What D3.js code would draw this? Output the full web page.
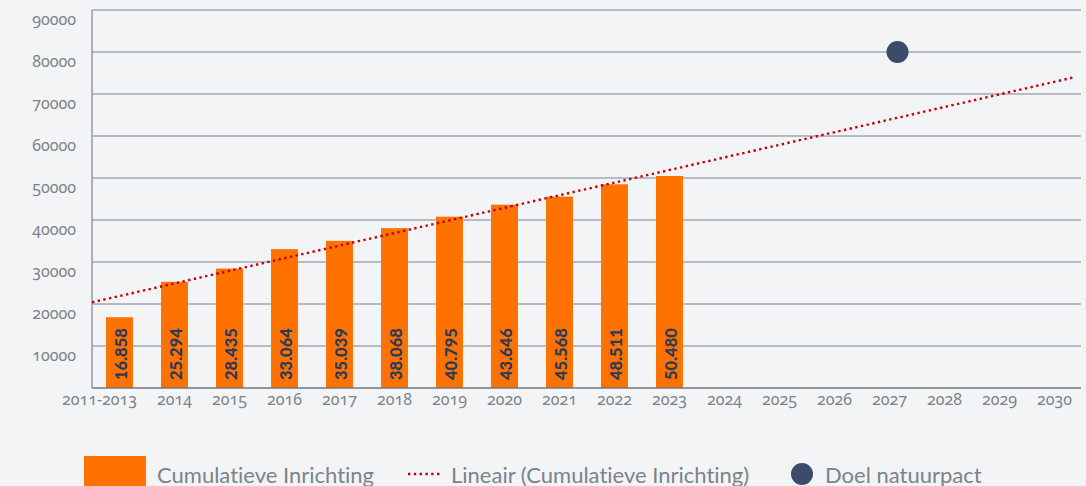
<!DOCTYPE html>
<html><head><meta charset="utf-8">
<script src="https://cdn.jsdelivr.net/npm/d3@7"></script>
<style>
html,body{margin:0;padding:0;background:#f3f4f6;}
body{font-family:"Noto Sans",Lato,sans-serif;font-variant-numeric:oldstyle-nums;font-feature-settings:"onum" 1;}
#wrap{position:relative;width:1086px;height:486px;overflow:hidden;}
svg{display:block;position:absolute;left:0;top:0;font-family:Lato,"Noto Sans",sans-serif;}
.lab{position:absolute;white-space:nowrap;font-family:"Noto Sans",Lato,sans-serif;font-size:16px;color:#7b838c;
  font-variant-numeric:oldstyle-nums;font-feature-settings:"onum" 1;}
</style></head><body>
<div id="wrap"><svg id="c" width="1086" height="486"></svg></div>
<script>
const categories = ["2011-2013","2014","2015","2016","2017","2018","2019","2020","2021","2022","2023","2024","2025","2026","2027","2028","2029","2030"];
const barValues = [16858,25294,28435,33064,35039,38068,40795,43646,45568,48511,50480];
const barLabels = ["16.858","25.294","28.435","33.064","35.039","38.068","40.795","43.646","45.568","48.511","50.480"];
const trendValues = [20400, 74050]; // read at left edge of plot and near right end
const goalCategory = "2027";
const goalValue = 80000;
const yTicks = [10000,20000,30000,40000,50000,60000,70000,80000,90000];
const legendLabels = ["Cumulatieve Inrichting","Lineair (Cumulatieve Inrichting)","Doel natuurpact"];

const svg = d3.select("#c");
const wrap = d3.select("#wrap");
const L = 92, R = 1082, T = 10, B = 388;
const x = d3.scaleBand().domain(categories).range([L, R]).paddingInner(0.51).paddingOuter(0.255);
const y = d3.scaleLinear().domain([0, 90000]).range([B, T]);
const orange = "#ff7200", navy = "#3d4b6b", red = "#c4000b", gray = "#7b838c";

function plain(sel) {
  sel.style("font-variant-ligatures", "none").style("font-feature-settings", '"liga" 0')
     .style("font-variant-numeric", "normal");
}

// gridlines
svg.append("g").selectAll("line").data(yTicks).join("line")
  .attr("x1", L).attr("x2", R - 1).attr("y1", d => y(d)).attr("y2", d => y(d))
  .attr("stroke", "#a3a9b0").attr("stroke-width", 1.4);

// bars
svg.append("g").selectAll("rect").data(barValues).join("rect")
  .attr("x", (d, i) => x(categories[i])).attr("width", x.bandwidth())
  .attr("y", d => y(d)).attr("height", d => B - y(d)).attr("fill", orange);

// bar labels
svg.append("g").selectAll("text").data(barLabels).join("text")
  .style("font-variant-numeric", "lining-nums").style("font-feature-settings", '"lnum" 1')
  .attr("transform", (d, i) => `translate(${x(categories[i]) + x.bandwidth() / 2 + 1},${B - 8}) rotate(-90)`)
  .attr("text-anchor", "start").attr("dominant-baseline", "central")
  .attr("font-size", 16.5).attr("font-weight", "900").attr("fill", "#2c3a56")
  .text(d => d);

// axes lines
svg.append("line").attr("x1", L).attr("x2", L).attr("y1", T).attr("y2", B).attr("stroke", "#8d949b").attr("stroke-width", 1.4);
svg.append("line").attr("x1", L).attr("x2", R - 1).attr("y1", B).attr("y2", B).attr("stroke", "#6f7780").attr("stroke-width", 1.4);

// trend line
const tx0 = L, tx1 = x("2030") + x.bandwidth() / 2 + 21;
svg.append("line").attr("x1", tx0).attr("x2", tx1)
  .attr("y1", y(trendValues[0])).attr("y2", y(trendValues[1]))
  .attr("stroke", red).attr("stroke-width", 2.4).attr("stroke-dasharray", "2.4 3.4");

// goal dot
svg.append("circle").attr("cx", x(goalCategory) + x.bandwidth() / 2 + 8).attr("cy", y(goalValue))
  .attr("r", 11).attr("fill", navy);

// legend
const lg = svg.append("g");
lg.append("rect").attr("x", 84).attr("y", 456).attr("width", 62).attr("height", 32).attr("fill", orange);
lg.append("text").call(plain).attr("x", 157).attr("y", 474).attr("dominant-baseline", "central")
  .attr("font-size", 22).attr("fill", gray).text(legendLabels[0]);
lg.append("line").attr("x1", 408).attr("x2", 442).attr("y1", 474).attr("y2", 474)
  .attr("stroke", red).attr("stroke-width", 2.4).attr("stroke-dasharray", "2.4 3.4");
lg.append("text").call(plain).attr("x", 451).attr("y", 474).attr("dominant-baseline", "central")
  .attr("font-size", 22).attr("fill", gray).text(legendLabels[1]);
lg.append("circle").attr("cx", 802).attr("cy", 474).attr("r", 11).attr("fill", navy);
lg.append("text").call(plain).attr("x", 825).attr("y", 474).attr("dominant-baseline", "central")
  .attr("font-size", 22).attr("fill", gray).text(legendLabels[2]);

// y labels (HTML for old-style figures)
wrap.selectAll("div.ylab").data(yTicks).join("div")
  .attr("class", "lab ylab")
  .style("right", (1086 - 76) + "px").style("top", d => (y(d) + 9 - 11) + "px")
  .style("line-height", "22px")
  .text(d => String(d));

// x labels (HTML)
wrap.selectAll("div.xlab").data(categories).join("div")
  .attr("class", "lab xlab")
  .style("left", (d, i) => (x(d) + x.bandwidth() / 2 + (i === 0 ? -20 : 0) - 50) + "px")
  .style("width", "100px").style("text-align", "center")
  .style("top", (399 - 11) + "px").style("line-height", "22px")
  .text(d => d);
</script>
</body></html>
